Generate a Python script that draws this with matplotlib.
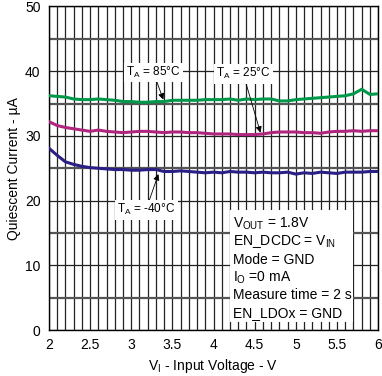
import matplotlib
matplotlib.use("Agg")
import matplotlib.pyplot as plt
import numpy as np
from matplotlib.patches import Rectangle

plt.rcParams["font.family"] = ["Liberation Sans", "DejaVu Sans"]

# input voltage (V)
vin = [2.0, 2.1, 2.2, 2.3, 2.4, 2.5, 2.6, 2.7, 2.8, 2.9,
       3.0, 3.1, 3.2, 3.3, 3.4, 3.5, 3.6, 3.7, 3.8, 3.9,
       4.0, 4.1, 4.2, 4.3, 4.4, 4.5, 4.6, 4.7, 4.8, 4.9,
       5.0, 5.1, 5.2, 5.3, 5.4, 5.5, 5.6, 5.7, 5.8, 5.9, 6.0]

# quiescent current (uA)
iq_85 = [36.2, 36.1, 36.0, 35.7, 35.6, 35.6, 35.7, 35.6, 35.5, 35.3,
         35.3, 35.2, 35.2, 35.3, 35.3, 35.5, 35.5, 35.5, 35.5, 35.6,
         35.6, 35.6, 35.7, 35.5, 35.7, 35.6, 35.7, 35.7, 35.4, 35.4,
         35.6, 35.7, 35.8, 35.9, 36.0, 36.1, 36.2, 36.5, 37.2, 36.4, 36.5]
iq_25 = [32.2, 31.6, 31.3, 31.1, 30.9, 30.7, 30.9, 30.7, 30.6, 30.5,
         30.6, 30.7, 30.7, 30.6, 30.5, 30.6, 30.6, 30.5, 30.5, 30.4,
         30.3, 30.3, 30.3, 30.2, 30.2, 30.2, 30.3, 30.5, 30.6, 30.6,
         30.6, 30.5, 30.5, 30.4, 30.6, 30.7, 30.7, 30.8, 30.7, 30.8, 30.8]
iq_m40 = [28.1, 27.0, 26.0, 25.6, 25.3, 25.1, 25.0, 24.9, 24.8, 24.8,
          24.7, 24.7, 24.8, 24.8, 24.5, 24.5, 24.6, 24.5, 24.4, 24.3,
          24.4, 24.3, 24.5, 24.4, 24.4, 24.3, 24.4, 24.3, 24.3, 24.4,
          24.1, 24.3, 24.2, 24.4, 24.3, 24.2, 24.4, 24.4, 24.4, 24.5, 24.5]

conditions = [r"V$_{\mathregular{OUT}}$ = 1.8V",
              r"EN_DCDC = V$_{\mathregular{IN}}$",
              "Mode = GND",
              r"I$_{\mathregular{O}}$ =0 mA",
              "Measure time = 2 s",
              "EN_LDOx = GND"]

fig = plt.figure(figsize=(3.82, 3.76), dpi=100)
ax = fig.add_axes([0.128, 0.122, 0.862, 0.861])

ax.set_xlim(2, 6)
ax.set_ylim(0, 50)
ax.set_xticks(np.arange(2, 6.01, 0.5))
ax.set_xticklabels(["2", "2.5", "3", "3.5", "4", "4.5", "5", "5.5", "6"])
ax.set_yticks(np.arange(0, 51, 10))
ax.set_xticks(np.arange(2, 6.01, 0.1), minor=True)
ax.set_yticks(np.arange(5, 50, 10), minor=True)
ax.tick_params(which="both", length=0, labelsize=10, pad=6)

# grid
ax.grid(which="major", axis="both", color="#222222", lw=0.9)
ax.grid(which="minor", axis="x", color="#222222", lw=0.9)
ax.grid(which="minor", axis="y", color="#555555", lw=1.6)
ax.set_axisbelow(True)
for s in ax.spines.values():
    s.set_linewidth(1.0)

ax.plot(vin, iq_85, color="#00994a", lw=2.2, zorder=3)
ax.plot(vin, iq_25, color="#b0267f", lw=2.2, zorder=3)
ax.plot(vin, iq_m40, color="#2a1f84", lw=2.2, zorder=3)

box = dict(boxstyle="square,pad=0.2", fc="white", ec="none")
arrow = dict(arrowstyle="-|>", color="black", lw=0.6, mutation_scale=9,
             shrinkA=0, shrinkB=0)
ax.annotate(r"T$_{\mathregular{A}}$ = 85°C", xy=(3.39, 35.6), xytext=(3.27, 39.8),
            ha="center", va="center", fontsize=8.5, bbox=box, arrowprops=arrow,
            zorder=5)
ax.annotate(r"T$_{\mathregular{A}}$ = 25°C", xy=(4.57, 30.5), xytext=(4.36, 39.6),
            ha="center", va="center", fontsize=8.5, bbox=box, arrowprops=arrow,
            zorder=5)
ax.annotate(r"T$_{\mathregular{A}}$ = -40°C", xy=(3.33, 24.1), xytext=(3.18, 18.6),
            ha="center", va="center", fontsize=8.5, bbox=box, arrowprops=arrow,
            zorder=5)

# conditions box
ax.add_patch(Rectangle((4.2, 1.2), 1.5, 17.3, fc="white", ec="none", zorder=4))
for i, line in enumerate(conditions):
    ax.text(4.24, 16.4 - i * 2.75, line, ha="left", va="center", fontsize=10,
            zorder=5)

ax.set_xlabel(r"V$_{\mathregular{I}}$ - Input Voltage - V", fontsize=10, labelpad=3)
ax.set_ylabel("Quiescent Current - µA", fontsize=10, labelpad=3)

fig.savefig("out.png", dpi=100)
